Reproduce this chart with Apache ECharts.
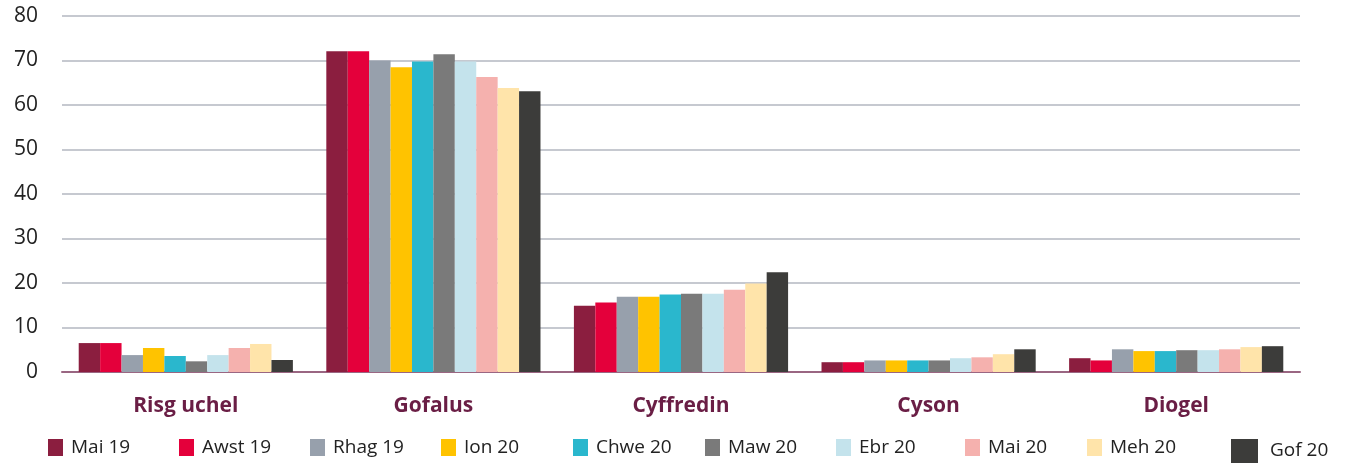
<!DOCTYPE html>
<html>
<head>
<meta charset="utf-8">
<script src="https://cdn.jsdelivr.net/npm/echarts@6/dist/echarts.min.js"></script>
<style>
html,body{margin:0;padding:0;background:#fff;}
#c{width:1348px;height:464px;}
</style>
</head>
<body>
<div id="c"></div>
<script>
const categories = ['Risg uchel', 'Gofalus', 'Cyffredin', 'Cyson', 'Diogel'];
const seriesNames = ['Mai 19', 'Awst 19', 'Rhag 19', 'Ion 20', 'Chwe 20', 'Maw 20', 'Ebr 20', 'Mai 20', 'Meh 20', 'Gof 20'];
const mai19  = [6.5, 72.1, 14.9, 2.2, 3.1];
const awst19 = [6.5, 72.1, 15.6, 2.2, 2.6];
const rhag19 = [3.8, 70.0, 16.9, 2.6, 5.1];
const ion20  = [5.4, 68.5, 16.9, 2.6, 4.7];
const chwe20 = [3.6, 69.8, 17.4, 2.6, 4.7];
const maw20  = [2.4, 71.4, 17.6, 2.6, 4.9];
const ebr20  = [3.8, 69.8, 17.6, 3.1, 4.9];
const mai20  = [5.4, 66.3, 18.5, 3.3, 5.1];
const meh20  = [6.3, 63.8, 19.9, 4.0, 5.6];
const gof20  = [2.7, 63.1, 22.4, 5.1, 5.8];
const seriesValues = [mai19, awst19, rhag19, ion20, chwe20, maw20, ebr20, mai20, meh20, gof20];
const yTicks = [0, 10, 20, 30, 40, 50, 60, 70, 80];

const colors = ['#8B1E3F', '#E4003B', '#97A0AC', '#FFC300', '#2AB7CD', '#7A7A7A', '#C4E3EC', '#F5B1AE', '#FFE4AA', '#3C3C3A'];
const legendLeft = [48, 179, 310, 441, 573, 705, 836, 965, 1087, 1231];
const FONT = '"Open Sans", sans-serif';

const legends = seriesNames.map((n, i) => ({
  data: [n],
  left: legendLeft[i],
  top: i === 9 ? 439 : 438,
  padding: 0,
  icon: 'rect',
  itemWidth: i === 9 ? 27 : 15,
  itemHeight: i === 9 ? 24 : 17,
  itemGap: 0,
  selectedMode: false,
  textStyle: { fontFamily: FONT, fontSize: 19, color: '#222', padding: [0, 0, 0, i === 9 ? 7 : 3] }
}));

const chart = echarts.init(document.getElementById('c'), null, { renderer: 'canvas' });
chart.setOption({
  animation: false,
  color: colors,
  legend: legends,
  grid: { left: 62, right: 48, top: 16, bottom: 92, containLabel: false },
  xAxis: {
    type: 'category',
    data: categories,
    axisTick: { show: false },
    axisLine: { lineStyle: { color: '#9A6682', width: 2 } },
    axisLabel: { fontFamily: FONT, fontSize: 21, fontWeight: 'bold', color: '#6A1E45', margin: 24 }
  },
  yAxis: {
    type: 'value',
    min: yTicks[0],
    max: yTicks[yTicks.length - 1],
    interval: 10,
    axisLine: { show: false },
    axisTick: { show: false },
    splitLine: { lineStyle: { color: '#B3B7C1', width: 1.5 } },
    axisLabel: { fontFamily: FONT, fontSize: 21, color: '#222', margin: 24 }
  },
  series: seriesNames.map((n, i) => ({
    name: n,
    type: 'bar',
    data: seriesValues[i],
    barGap: '0%',
    barCategoryGap: '13.5%',
    itemStyle: { color: colors[i] }
  }))
});
</script>
</body>
</html>
